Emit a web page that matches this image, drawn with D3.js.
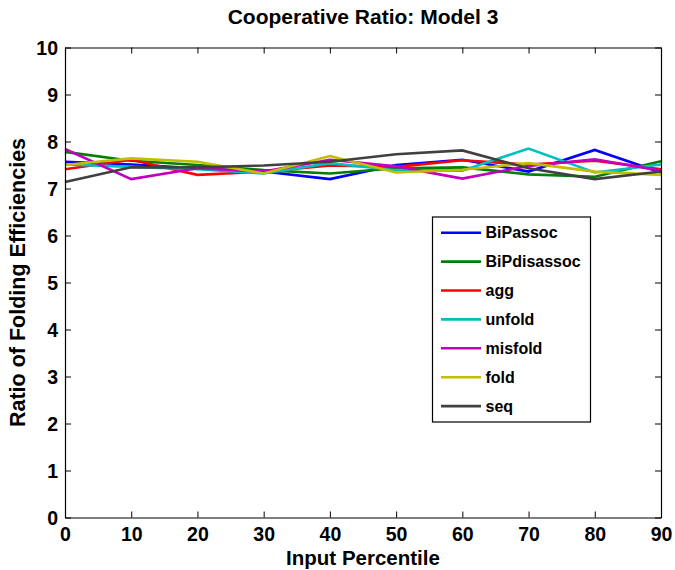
<!DOCTYPE html>
<html>
<head>
<meta charset="utf-8">
<script src="https://cdn.jsdelivr.net/npm/d3@7"></script>
<style>
  body { margin: 0; background: #fff; }
  svg text { font-family: "Liberation Sans", Arial, sans-serif; font-weight: bold; fill: #000; }
</style>
</head>
<body>
<svg id="chart"></svg>
<script>
const percentile = [0, 10, 20, 30, 40, 50, 60, 70, 80, 90];
const seriesNames = ["BiPassoc", "BiPdisassoc", "agg", "unfold", "misfold", "fold", "seq"];
const seriesColors = ["#0000ff", "#008000", "#ff0000", "#00bfbf", "#bf00bf", "#bfbf00", "#404040"];
const BiPassoc    = [7.57, 7.51, 7.43, 7.36, 7.20, 7.50, 7.61, 7.36, 7.82, 7.34];
const BiPdisassoc = [7.78, 7.59, 7.50, 7.39, 7.32, 7.43, 7.45, 7.30, 7.25, 7.58];
const agg         = [7.41, 7.61, 7.29, 7.36, 7.49, 7.46, 7.60, 7.51, 7.59, 7.41];
const unfold      = [7.51, 7.46, 7.41, 7.32, 7.54, 7.39, 7.38, 7.85, 7.34, 7.51];
const misfold     = [7.84, 7.20, 7.43, 7.36, 7.61, 7.47, 7.21, 7.48, 7.62, 7.38];
const fold        = [7.50, 7.64, 7.57, 7.32, 7.69, 7.34, 7.40, 7.54, 7.36, 7.29];
const seq         = [7.14, 7.45, 7.45, 7.49, 7.57, 7.73, 7.81, 7.43, 7.20, 7.36];
const xTicks = d3.range(0, 91, 10);
const yTicks = d3.range(0, 11, 1);

const seriesValues = [BiPassoc, BiPdisassoc, agg, unfold, misfold, fold, seq];

const margin = {top: 47.5, right: 14, bottom: 52.5, left: 65},
  width = 675 - margin.left - margin.right,
  height = 570 - margin.top - margin.bottom;

const svg = d3.select("#chart")
  .attr("width", 675)
  .attr("height", 570);

const g = svg.append("g")
  .attr("transform", "translate(" + margin.left + "," + margin.top + ")");

const x = d3.scaleLinear().domain([0, 90]).range([0, width]);
const y = d3.scaleLinear().domain([0, 10]).range([height, 0]);

// lines
const line = d3.line()
  .x((d, i) => x(percentile[i]))
  .y(d => y(d));

g.append("g")
  .selectAll("path")
  .data(seriesValues)
  .join("path")
    .attr("fill", "none")
    .attr("stroke", (d, i) => seriesColors[i])
    .attr("stroke-width", 2.6)
    .attr("d", line);

// axes (matlab style: box, ticks inward)
const tick = 6;
const xAxisB = d3.axisBottom(x).tickValues(xTicks).tickSizeInner(-tick).tickSizeOuter(0);
const xAxisT = d3.axisTop(x).tickValues(xTicks).tickSizeInner(-tick).tickSizeOuter(0).tickFormat("");
const yAxisL = d3.axisLeft(y).tickValues(yTicks).tickSizeInner(-tick).tickSizeOuter(0).tickPadding(7);
const yAxisR = d3.axisRight(y).tickValues(yTicks).tickSizeInner(-tick).tickSizeOuter(0).tickFormat("");

g.append("g").attr("transform", "translate(0," + height + ")").call(xAxisB)
  .call(s => s.selectAll("text").style("font-size", "19.5px").attr("y", 10).attr("dy", "0.71em"));
g.append("g").call(xAxisT);
g.append("g").call(yAxisL)
  .call(s => s.selectAll("text").style("font-size", "19.5px").attr("dy", "0.35em"));
g.append("g").attr("transform", "translate(" + width + ",0)").call(yAxisR);

g.selectAll(".domain").attr("stroke", "#000").attr("stroke-width", 1.2);
g.selectAll(".tick line").attr("stroke", "#000").attr("stroke-width", 1);

// title and labels
svg.append("text")
  .attr("x", margin.left + width / 2)
  .attr("y", 24)
  .attr("text-anchor", "middle")
  .style("font-size", "21px")
  .text("Cooperative Ratio: Model 3");

svg.append("text")
  .attr("x", margin.left + width / 2)
  .attr("y", 564.5)
  .attr("text-anchor", "middle")
  .style("font-size", "20.5px")
  .text("Input Percentile");

svg.append("text")
  .attr("transform", "translate(25," + (margin.top + height / 2) + ") rotate(-90)")
  .attr("text-anchor", "middle")
  .style("font-size", "21.5px")
  .text("Ratio of Folding Efficiencies");

// legend
const legend = svg.append("g")
  .attr("transform", "translate(432.5,217)");

legend.append("rect")
  .attr("width", 158)
  .attr("height", 205)
  .attr("fill", "#fff")
  .attr("stroke", "#000")
  .attr("stroke-width", 1.2);

const item = legend.selectAll(".item")
  .data(seriesNames)
  .join("g")
    .attr("class", "item")
    .attr("transform", (d, i) => "translate(0," + (15.7 + i * 28.9) + ")");

item.append("line")
  .attr("x1", 8.5)
  .attr("x2", 48.5)
  .attr("stroke", (d, i) => seriesColors[i])
  .attr("stroke-width", 2.6);

item.append("text")
  .attr("x", 53)
  .attr("dy", "0.36em")
  .style("font-size", "16px")
  .text(d => d);
</script>
</body>
</html>
